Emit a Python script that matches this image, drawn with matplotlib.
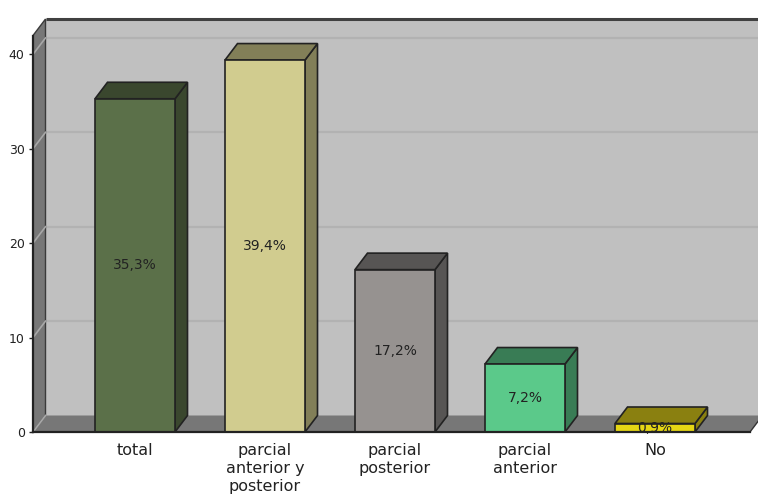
import matplotlib
matplotlib.use('Agg')
import matplotlib.pyplot as plt
from matplotlib.patches import Polygon

plt.rcParams['font.family'] = ['DejaVu Sans']

## data
categories = ['total', 'parcial\nanterior y\nposterior', 'parcial\nposterior', 'parcial\nanterior', 'No']
values = [35.3, 39.4, 17.2, 7.2, 0.9]
value_labels = ['35,3%', '39,4%', '17,2%', '7,2%', '0,9%']
front_colors = ['#5b7049', '#d1cc8f', '#969290', '#5bc98a', '#e5d614']
shade_colors = ['#3a472e', '#827f58', '#575554', '#397c55', '#8a8010']
yticks = [0, 10, 20, 30, 40]

## layout (pixels in a 758x500 figure)
W, H = 758, 500
x_left, x_right = 33, 750       # front plane edges
y_zero = 432                    # pixel row of value 0 (from top)
px_unit = 9.44                  # pixels per value unit
px_cat = 130                    # pixels per category
c0 = 135                        # pixel x of first category
ymax = 42
depth_x, depth_y = 12.5, 16.5   # 3d offset in pixels

fig = plt.figure(figsize=(W / 100, H / 100), dpi=100)
ax = fig.add_axes([x_left / W, (H - y_zero) / H,
                   (x_right - x_left) / W, ymax * px_unit / H])
xmin = (x_left - c0) / px_cat
xmax = (x_right - c0) / px_cat
ax.set_xlim(xmin, xmax)
ax.set_ylim(0, ymax)
ddx = depth_x / px_cat
ddy = depth_y / px_unit
bw = 80 / px_cat


def poly(pts, fc, ec='#222222', lw=1.0, z=1):
    p = Polygon(pts, closed=True, facecolor=fc, edgecolor=ec, linewidth=lw,
                zorder=z, clip_on=False)
    ax.add_patch(p)


# back wall
poly([(xmin + ddx, ddy), (xmax + 0.2, ddy), (xmax + 0.2, ymax + ddy), (xmin + ddx, ymax + ddy)],
     '#c0c0c0', ec='none', z=0)
ax.plot([xmin + ddx, xmax + 0.2], [ymax + ddy] * 2, color='#404040', lw=2.2,
        clip_on=False, zorder=0.5, solid_capstyle='butt')

# grid lines on back wall and left wall
for t in yticks[1:]:
    ax.plot([xmin + ddx, xmax + 0.2], [t + ddy] * 2, color='#b2b2b2', lw=1.6,
            clip_on=False, zorder=0.4)

# left wall
poly([(xmin, 0), (xmin + ddx, ddy), (xmin + ddx, ymax + ddy), (xmin, ymax)], '#777777',
     ec='#3a3a3a', lw=1.0, z=0.6)
for t in yticks[1:]:
    ax.plot([xmin, xmin + ddx], [t, t + ddy], color='#a8a8a8', lw=1.2,
            clip_on=False, zorder=0.7)

# floor
poly([(xmin, 0), (xmax, 0), (xmax + ddx, ddy), (xmax + 0.2, ddy), (xmin + ddx, ddy)],
     '#777777', ec='none', z=0.6)
ax.plot([xmin, xmin + ddx], [0, ddy], color='#a8a8a8', lw=1.2, clip_on=False, zorder=0.7)
ax.plot([xmax, xmax + ddx], [0, ddy], color='#333333', lw=1.0, clip_on=False, zorder=0.7)

# bars
for i, (v, fc, sc, lab) in enumerate(zip(values, front_colors, shade_colors, value_labels)):
    l, r = i - bw / 2, i + bw / 2
    poly([(r, 0), (r + ddx, ddy), (r + ddx, v + ddy), (r, v)], sc, lw=1.2, z=2)
    poly([(l, v), (r, v), (r + ddx, v + ddy), (l + ddx, v + ddy)], sc, lw=1.2, z=2)
    poly([(l, 0), (r, 0), (r, v), (l, v)], fc, lw=1.2, z=3)
    ax.text(i, v / 2, lab, ha='center', va='center', fontsize=10, color='#222222', zorder=4)

# axes
for s in ['top', 'right']:
    ax.spines[s].set_visible(False)
for s in ['left', 'bottom']:
    ax.spines[s].set_color('#222222')
    ax.spines[s].set_linewidth(1.6)
    ax.spines[s].set_zorder(5)
ax.patch.set_visible(False)
ax.set_yticks(yticks)
ax.set_yticklabels([str(t) for t in yticks], fontsize=9, color='#222222')
ax.tick_params(axis='y', length=3, width=1, color='#222222', pad=3)
ax.set_xticks(range(len(categories)))
ax.set_xticklabels(categories, fontsize=11.5, color='#222222', linespacing=1.25)
ax.tick_params(axis='x', length=0, pad=8)

fig.savefig('out.png', dpi=100)
